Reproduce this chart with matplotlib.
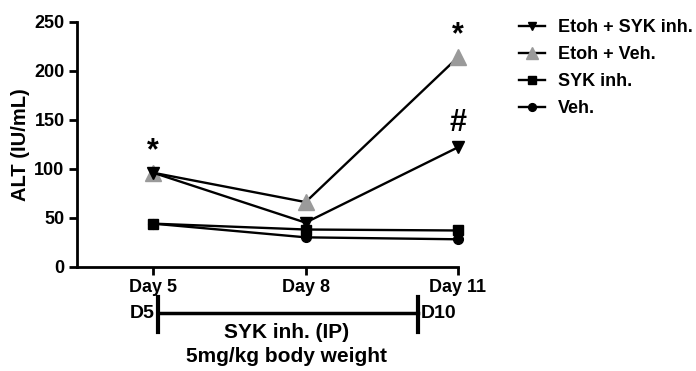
import matplotlib
matplotlib.use("Agg")
import matplotlib.pyplot as plt

plt.rcParams['font.family'] = ['Liberation Sans', 'DejaVu Sans']
plt.rcParams['font.weight'] = 'bold'
plt.rcParams['axes.labelweight'] = 'bold'

days = [5, 8, 11]
day_labels = ['Day 5', 'Day 8', 'Day 11']

etoh_syk = [96, 45, 122]
etoh_veh = [96, 66, 214]
syk_inh = [44, 38, 37]
veh = [44, 30, 28]

series_names = ['Etoh + SYK inh.', 'Etoh + Veh.', 'SYK inh.', 'Veh.']

W, H = 696, 371
fig = plt.figure(figsize=(W / 100, H / 100), dpi=100)
ax = fig.add_axes([77 / W, 1 - 266.7 / H, (458 - 77) / W, (266.7 - 22) / H])

lw = 1.7
ax.plot(days, etoh_syk, color='black', lw=lw, marker='v', ms=8, clip_on=False, zorder=4)
ax.plot(days, etoh_veh, color='black', lw=lw, marker='^', ms=11,
        mfc='#9a9a9a', mec='#9a9a9a', clip_on=False, zorder=3)
ax.plot(days, syk_inh, color='black', lw=lw, marker='s', ms=7, clip_on=False, zorder=4)
ax.plot(days, veh, color='black', lw=lw, marker='o', ms=7, clip_on=False, zorder=4)

# significance marks
ax.text(days[0], etoh_veh[0] + 7, '*', ha='center', va='bottom', fontsize=22)
ax.text(days[2], etoh_veh[2] + 7, '*', ha='center', va='bottom', fontsize=22)
ax.text(days[2], etoh_syk[2] + 9, '#', ha='center', va='bottom', fontsize=22)

ax.set_xlim(3.5, 11)
ax.set_ylim(0, 250)
ax.set_xticks(days)
ax.set_xticklabels(day_labels)
ax.set_yticks([0, 50, 100, 150, 200, 250])
ax.set_ylabel('ALT (IU/mL)', fontsize=14.5, labelpad=3)
for s in ['top', 'right']:
    ax.spines[s].set_visible(False)
for s in ['left', 'bottom']:
    ax.spines[s].set_linewidth(2)
ax.tick_params(width=2, length=6, labelsize=13, direction='out', pad=3)

# legend
handles = ax.get_lines()
leg = fig.legend(handles, series_names, loc='upper left', bbox_to_anchor=(503 / W, 1 - 3 / H),
                 frameon=False, fontsize=13, handlelength=1.4, labelspacing=0.55,
                 handletextpad=0.72, markerscale=0.8)

# treatment timeline below the axis
def fx(px):
    return px / W

def fy(py):
    return 1 - py / H

y_line = 313
fig.add_artist(plt.Line2D([fx(158), fx(418)], [fy(y_line), fy(y_line)], color='black', lw=2.5))
fig.add_artist(plt.Line2D([fx(158), fx(158)], [fy(297), fy(332)], color='black', lw=3))
fig.add_artist(plt.Line2D([fx(418), fx(418)], [fy(297), fy(332)], color='black', lw=3))
fig.text(fx(155), fy(y_line), 'D5', ha='right', va='center', fontsize=14)
fig.text(fx(421), fy(y_line), 'D10', ha='left', va='center', fontsize=14)
fig.text(fx(287), fy(333), 'SYK inh. (IP)', ha='center', va='center', fontsize=15)
fig.text(fx(287), fy(357), '5mg/kg body weight', ha='center', va='center', fontsize=15)

fig.savefig('out.png', dpi=100)
